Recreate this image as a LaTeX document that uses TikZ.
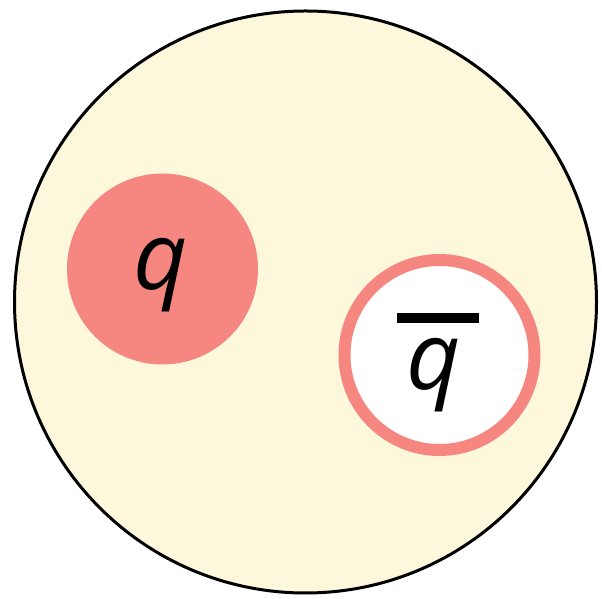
\documentclass[tikz,border=0pt]{standalone}
\usepackage{fontspec}
\setmainfont{Open Sans}
\definecolor{cream}{RGB}{253,248,220}
\definecolor{quarkred}{RGB}{245,135,128}
\begin{document}
\begin{tikzpicture}[x=1pt,y=1pt,
  qlabel/.style={font=\fontsize{94}{94}\selectfont\itshape, inner sep=0pt, anchor=base}]
\useasboundingbox (0,0) rectangle (602,599);
\draw[fill=cream, line width=3pt] (305.5,297) circle[radius=291];
\fill[quarkred] (162.5,330) circle[radius=95.5];
\node[qlabel] (q) at (161,309) {q};
\draw[quarkred, fill=white, line width=12pt] (439.5,244) circle[radius=95];
\node[fill=black, minimum width=82pt, minimum height=10pt, inner sep=0pt] (bar) at (438,281) {};
\node[qlabel] (qb) at (433.5,209) {q};
\end{tikzpicture}
\end{document}
